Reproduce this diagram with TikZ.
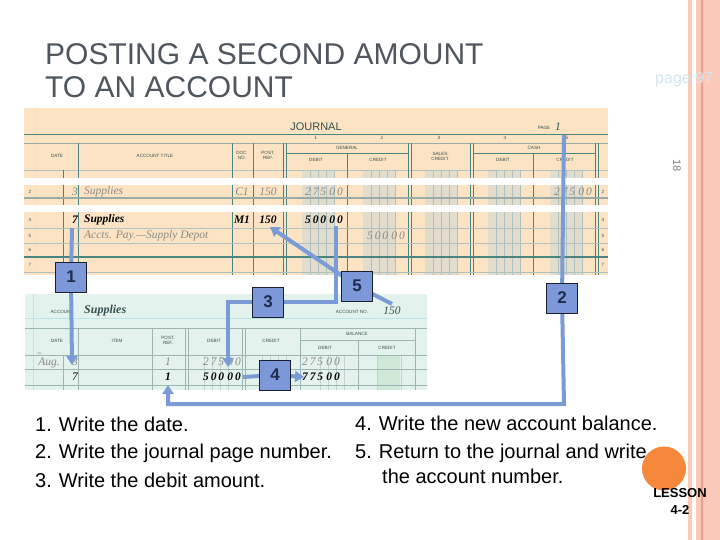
\documentclass[tikz,border=0pt]{standalone}
\usepackage{fontspec}
\setmainfont{Liberation Sans}
\newfontfamily\jserif{Liberation Serif}
\usetikzlibrary{arrows.meta}
\pgfdeclarelayer{fg}
\pgfsetlayers{main,fg}
\definecolor{peach}{HTML}{FCE3C3}
\definecolor{jteal}{HTML}{4A8580}
\definecolor{jgray}{HTML}{9AAAA6}
\definecolor{jdigit}{HTML}{AFC0C0}
\definecolor{jband}{HTML}{E2DCCC}
\definecolor{jtext}{HTML}{34504E}
\definecolor{entgray}{HTML}{8A8A84}
\definecolor{mint}{HTML}{E3F2EC}
\definecolor{alight}{HTML}{BFE3E8}
\definecolor{agray}{HTML}{9DB5B2}
\definecolor{aband}{HTML}{CFE7D6}
\definecolor{callfill}{HTML}{7D98D8}
\definecolor{calldraw}{HTML}{1A1F2E}
\definecolor{calltext}{HTML}{1F2D4F}
\definecolor{connblue}{HTML}{7B9BD6}
\definecolor{titlegray}{HTML}{50565E}
\definecolor{pagecol}{HTML}{D3E6EF}
\definecolor{stripe}{HTML}{FAC9B7}
\definecolor{stripedark}{HTML}{E8A188}
\definecolor{lightblue}{HTML}{CFE6EC}
\definecolor{lessonorange}{HTML}{F5883A}
\begin{document}
\begin{tikzpicture}[x=1pt,y=-1pt,
  conn/.style={draw=connblue,line width=4pt},
  tip/.style={-{Triangle[length=9pt,width=11pt]}},
  callout/.style={draw=calldraw,fill=callfill,line width=1pt,minimum width=31pt,minimum height=30pt,inner sep=0pt,font=\fontsize{17}{17}\selectfont\bfseries,text=calltext},
  jl/.style={draw=jteal,line width=0.6pt},
  jd/.style={draw=jdigit,line width=0.4pt},
  al/.style={draw=agray,line width=0.6pt},
  hd/.style={font=\fontsize{4.6}{5}\selectfont,text=jtext,inner sep=0pt},
  ent/.style={font=\jserif\itshape\fontsize{11.5}{12}\selectfont,inner sep=0pt},
  entg/.style={ent,text=entgray},
  entb/.style={inner sep=0pt,font=\jserif\bfseries\itshape\fontsize{11.5}{12}\selectfont,text=black},
  steptext/.style={anchor=base west,inner sep=0pt,font=\fontsize{20}{22}\selectfont}]
\useasboundingbox (0,0) rectangle (720,540);
\fill[white] (0,0) rectangle (720,540);
% right stripes
\fill[stripe] (688,0) rectangle (692,540);
\fill[stripe] (696,0) rectangle (720,540);
\fill[stripedark] (701,0) rectangle (703,540);
% title
\node[anchor=base west,inner sep=0pt,text=titlegray,font=\fontsize{30}{33}\selectfont] (t1) at (45,65) {POSTING A SECOND AMOUNT};
\node[anchor=base west,inner sep=0pt,text=titlegray,font=\fontsize{30}{33}\selectfont] (t2) at (45,98) {TO AN ACCOUNT};
\node[anchor=base west,inner sep=0pt,text=pagecol,font=\fontsize{16}{16}\selectfont] (pg97) at (655,84) {page 97};
\node[rotate=-90,inner sep=0pt,text=gray,font=\fontsize{11}{11}\selectfont] (n18) at (677,166) {18};

% ===== journal =====
\fill[peach] (24,108) rectangle (608,275);
\foreach \b in {347,408,470,533,595} {
  \fill[jband] ({\b-45},170) rectangle ({\b-13},275);
  \foreach \k in {13,21,29,37} \draw[jd] ({\b-\k},170) -- ({\b-\k},275);
}
\draw[draw=lightblue] (35,108) -- (35,275);
\draw[jl] (24,134) -- (608,134);
\draw[jl,draw=jgray] (24,143) -- (608,143);
\draw[jd] (24,170) -- (608,170);
\foreach \x in {78,232,253,283,286,408,411,470,473,595,598} \draw[jl] (\x,143) -- (\x,275);
\foreach \x in {347,533} \draw[jl] (\x,153) -- (\x,275);
\draw[jl] (286,153) -- (408,153);
\draw[jl] (473,153) -- (595,153);
\draw[jl] (63,170) -- (63,275);
\draw[jl,draw=jgray,line width=1.2pt] (24,198) -- (608,198);
\draw[jd] (24,228) -- (608,228);
\draw[jd] (24,243) -- (608,243);
\draw[jl,line width=1.6pt] (24,257) -- (608,257);
\draw[jd] (24,272) -- (608,272);
\fill[white] (24,178) rectangle (608,185);
\fill[white] (24,205) rectangle (608,212);
% journal headings
\node[inner sep=0pt,text=jtext,font=\fontsize{11}{11}\selectfont] (jtitle) at (316,127) {JOURNAL};
\node[hd] (jpage) at (544,128) {PAGE};
\node[ent,text=jtext] (jpagenum) at (558,127) {1};
\node[hd] (c1) at (316,138) {1};
\node[hd] (c2) at (382,138) {2};
\node[hd] (c3) at (439,138) {3};
\node[hd] (c4) at (505,138) {4};
\node[hd] (c5) at (567,138) {5};
\node[hd] (hdate) at (57,156) {DATE};
\node[hd] (htitle) at (155,156) {ACCOUNT TITLE};
\node[hd,align=center] (hdoc) at (242,155) {DOC.\\NO.};
\node[hd,align=center] (hpost) at (268,155) {POST.\\REF.};
\node[hd] (hgen) at (347,148) {GENERAL};
\node[hd] (hgd) at (316,160) {DEBIT};
\node[hd] (hgc) at (378,160) {CREDIT};
\node[hd,align=center] (hsales) at (440,156) {SALES\\CREDIT};
\node[hd] (hcash) at (534,148) {CASH};
\node[hd] (hcd) at (503,160) {DEBIT};
\node[hd] (hcc) at (565,160) {CREDIT};
% journal rows
\foreach \n/\y in {2/192,4/220,5/236,6/250,7/265} {
  \node[hd] at (30,\y) {\n};
  \node[hd] at (603,\y) {\n};
}
\node[entg,anchor=east] (r2d) at (78,192) {3};
\node[entg,anchor=west] (r2t) at (84,192) {Supplies};
\node[entg] (r2doc) at (242,192) {C1};
\node[entg] (r2pr) at (268,192) {150};
\node[entg,anchor=east] (r2gd) at (343,192) {2\,7\,5\;0\,0};
\node[entg,anchor=east] (r2cc) at (592,192) {2\,7\,5\;0\,0};
\node[entb,anchor=east] (r4d) at (78,220) {7};
\node[entb,anchor=west] (r4t) at (84,220) {Supplies};
\node[entb] (r4doc) at (242,220) {M1};
\node[entb] (r4pr) at (268,220) {150};
\node[entb,anchor=east] (r4gd) at (343,220) {5\,0\,0\;0\,0};
\node[entg,anchor=west] (r5t) at (84,236) {Accts. Pay.—Supply Depot};
\node[entg,anchor=east] (r5gc) at (405,236) {5\,0\,0\;0\,0};

% ===== account =====
\fill[mint] (25,294) rectangle (427,390);
\foreach \b in {242,300,358,415} {
  \foreach \k in {14,22,30,38} \draw[draw=agray!60,line width=0.4pt] ({\b-\k},355) -- ({\b-\k},390);
}
\fill[aband] (378,355) rectangle (400,390);
\draw[draw=alight] (33,294) -- (33,390);
\draw[draw=alight,line width=1pt] (25,318) -- (427,318);
\draw[al] (25,328) -- (427,328);
\draw[al] (25,355) -- (427,355);
\draw[al] (25,369) -- (427,369);
\draw[al] (25,385) -- (427,385);
\draw[al] (300,340) -- (415,340);
\foreach \x in {78,152,185,188,242,245,300,415} \draw[al] (\x,328) -- (\x,390);
\draw[al] (358,340) -- (358,390);
\draw[al] (63,355) -- (63,390);
\node[hd] (aacc) at (62,312) {ACCOUNT};
\node[inner sep=0pt,anchor=west,font=\jserif\bfseries\itshape\fontsize{12}{12}\selectfont,text=jtext] (aname) at (84,311) {Supplies};
\node[hd] (aaccno) at (352,312) {ACCOUNT NO.};
\node[ent,text=jtext] (ano) at (392,311) {150};
\node[hd] (adate) at (57,341) {DATE};
\node[hd] (aitem) at (117,341) {ITEM};
\node[hd,align=center] (apost) at (168,340) {POST.\\REF.};
\node[hd] (adebit) at (214,341) {DEBIT};
\node[hd] (acredit) at (271,341) {CREDIT};
\node[hd] (abal) at (357,334) {BALANCE};
\node[hd] (abd) at (325,348) {DEBIT};
\node[hd] (abc) at (387,348) {CREDIT};
\node[inner sep=0pt,font=\fontsize{3}{3}\selectfont,text=entgray] (ayear) at (40,353) {20--};
\node[entg] (aaug) at (49,363) {Aug.};
\node[entg,anchor=east] (a1d) at (78,362) {3};
\node[entg] (a1pr) at (168,362) {1};
\node[entg,anchor=east] (a1dr) at (241,362) {2\,7\,5\;0\,0};
\node[entg,anchor=east] (a1bal) at (340,362) {2\,7\,5\;0\,0};
\node[ent,anchor=east] (a2d) at (78,377) {7};
\node[entb] (a2pr) at (168,377) {1};
\node[entb,anchor=east] (a2dr) at (241,377) {5\,0\,0\;0\,0};
\node[entb,anchor=east] (a2bal) at (340,377) {7\,7\,5\;0\,0};

% ===== callout boxes =====
\begin{pgfonlayer}{fg}
\node[callout] (b1) at (71,277) {1};
\node[callout] (b2) at (562,298) {2};
\node[callout] (b3) at (268,302) {3};
\node[callout] (b4) at (275,375) {4};
\node[callout] (b5) at (357,286) {5};
\end{pgfonlayer}

% ===== connectors =====
\coordinate (j7) at (72,228);
\coordinate (a1) at (72,365);
\coordinate (pg) at (564,135);
\coordinate (c2a) at (564,404);
\coordinate (c2b) at (168,404);
\coordinate (a2) at (168,385);
\coordinate (d5) at (336,226);
\coordinate (c3a) at (336,302);
\coordinate (c3b) at (228,302);
\coordinate (a3) at (228,367);
\coordinate (e4) at (243,377);
\coordinate (a4) at (304,377);
\coordinate (n150) at (392,304);
\coordinate (a5) at (270,227);
\draw[conn,tip] (j7) -- (b1.center) -- (a1);
\draw[conn,tip] (pg) -- (b2.center) -- (c2a) -- (c2b) -- (a2);
\draw[conn,tip] (d5) -- (c3a) -- (b3.center) -- (c3b) -- (a3);
\draw[conn,tip] (e4) -- (b4.center) -- (a4);
\draw[conn,tip] (n150) -- (b5.center) -- (a5);

% ===== steps text =====
\node[steptext] (s1) at (35,431) {1.\hspace{7pt}Write the date.};
\node[steptext] (s2) at (35,458) {2.\hspace{7pt}Write the journal page number.};
\node[steptext] (s3) at (35,487) {3.\hspace{7pt}Write the debit amount.};
\node[steptext] (s4) at (355,430) {4.\hspace{7pt}Write the new account balance.};
\node[steptext] (s5) at (355,458) {5.\hspace{7pt}Return to the journal and write};
\node[steptext] (s5b) at (382,483) {the account number.};

% ===== lesson badge =====
\fill[lessonorange] (664,468.5) circle (22);
\node[inner sep=0pt,font=\fontsize{13}{13}\selectfont\bfseries] (lesson) at (680,493) {LESSON};
\node[inner sep=0pt,font=\fontsize{13}{13}\selectfont\bfseries] (lnum) at (680,510) {4-2};
\end{tikzpicture}
\end{document}
